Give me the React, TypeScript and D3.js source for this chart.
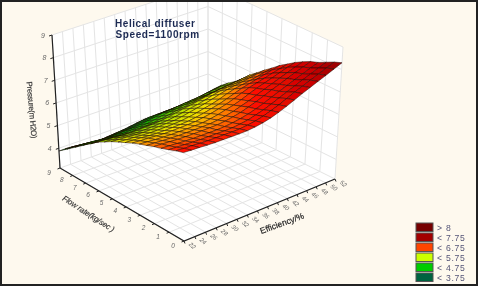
import React from "react";
import * as d3 from "d3";

// Tick labels
const flowTicks = [0, 1, 2, 3, 4, 5, 6, 7, 8, 9];
const effTicks = [22, 24, 26, 28, 30, 32, 34, 36, 38, 40, 42, 44, 46, 48, 50, 52];
const pressureTicks = [4, 5, 6, 7, 8, 9];

// Legend
const legendLabels = ["> 8", "< 7.75", "< 6.75", "< 5.75", "< 4.75", "< 3.75"];
const legendColors = ["#760000", "#a30000", "#ff4500", "#ccff00", "#00cc00", "#00643f"];

// Pressure. Rows run from flow 9 down to flow 0,
// columns from the lowest to the highest efficiency.
const pressure = [
  [3.88, 3.84, 3.80, 3.76, 3.73, 3.73, 3.76, 3.79, 3.82, 3.87, 3.92, 3.96, 3.96, 3.95, 3.93, 3.92, 3.92, 3.96, 4.00, 4.04, 4.07],
  [4.14, 4.11, 4.07, 4.03, 4.00, 4.00, 4.03, 4.06, 4.08, 4.13, 4.19, 4.23, 4.24, 4.25, 4.25, 4.26, 4.27, 4.31, 4.36, 4.41, 4.45],
  [4.38, 4.34, 4.31, 4.27, 4.24, 4.24, 4.27, 4.29, 4.32, 4.37, 4.42, 4.47, 4.49, 4.51, 4.53, 4.55, 4.57, 4.62, 4.68, 4.74, 4.79],
  [4.61, 4.58, 4.55, 4.51, 4.49, 4.49, 4.51, 4.53, 4.56, 4.61, 4.66, 4.72, 4.74, 4.78, 4.82, 4.85, 4.88, 4.92, 4.96, 5.00, 5.04],
  [4.82, 4.78, 4.75, 4.72, 4.70, 4.70, 4.72, 4.74, 4.76, 4.81, 4.87, 4.93, 4.96, 5.01, 5.05, 5.08, 5.10, 5.13, 5.17, 5.22, 5.26],
  [5.02, 4.99, 4.96, 4.93, 4.91, 4.91, 4.93, 4.94, 4.97, 5.02, 5.07, 5.14, 5.18, 5.24, 5.29, 5.34, 5.37, 5.40, 5.44, 5.50, 5.54],
  [5.26, 5.23, 5.20, 5.17, 5.15, 5.15, 5.17, 5.18, 5.20, 5.25, 5.31, 5.38, 5.43, 5.50, 5.57, 5.64, 5.68, 5.72, 5.76, 5.81, 5.86],
  [5.43, 5.40, 5.38, 5.35, 5.33, 5.33, 5.34, 5.36, 5.38, 5.43, 5.49, 5.56, 5.62, 5.70, 5.79, 5.87, 5.92, 5.96, 6.01, 6.06, 6.11],
  [5.61, 5.58, 5.56, 5.53, 5.51, 5.51, 5.52, 5.54, 5.55, 5.60, 5.67, 5.74, 5.81, 5.90, 6.00, 6.09, 6.15, 6.20, 6.26, 6.33, 6.38],
  [5.76, 5.73, 5.71, 5.68, 5.66, 5.66, 5.67, 5.68, 5.70, 5.75, 5.81, 5.89, 5.96, 6.06, 6.18, 6.28, 6.35, 6.41, 6.48, 6.56, 6.63],
  [5.90, 5.88, 5.86, 5.83, 5.81, 5.81, 5.82, 5.83, 5.85, 5.90, 5.96, 6.04, 6.12, 6.23, 6.35, 6.47, 6.56, 6.64, 6.73, 6.82, 6.90],
  [6.05, 6.02, 6.01, 5.98, 5.96, 5.96, 5.97, 5.98, 6.00, 6.05, 6.11, 6.19, 6.28, 6.40, 6.53, 6.66, 6.75, 6.84, 6.94, 7.03, 7.12],
  [6.17, 6.14, 6.12, 6.10, 6.09, 6.09, 6.09, 6.10, 6.11, 6.16, 6.23, 6.32, 6.40, 6.52, 6.66, 6.79, 6.90, 7.01, 7.13, 7.25, 7.35],
  [6.28, 6.26, 6.24, 6.22, 6.21, 6.21, 6.21, 6.22, 6.23, 6.27, 6.33, 6.41, 6.52, 6.63, 6.76, 6.90, 7.03, 7.16, 7.29, 7.42, 7.54],
  [6.40, 6.38, 6.36, 6.34, 6.33, 6.33, 6.33, 6.34, 6.35, 6.39, 6.45, 6.53, 6.64, 6.76, 6.90, 7.04, 7.17, 7.31, 7.45, 7.58, 7.71],
  [6.49, 6.47, 6.45, 6.43, 6.42, 6.42, 6.42, 6.42, 6.44, 6.48, 6.54, 6.62, 6.73, 6.85, 7.00, 7.14, 7.28, 7.42, 7.56, 7.70, 7.83],
  [6.60, 6.58, 6.57, 6.55, 6.54, 6.54, 6.54, 6.54, 6.55, 6.59, 6.65, 6.74, 6.85, 6.98, 7.13, 7.28, 7.42, 7.57, 7.71, 7.86, 8.00],
  [6.72, 6.70, 6.69, 6.67, 6.66, 6.66, 6.66, 6.66, 6.67, 6.71, 6.77, 6.86, 6.98, 7.11, 7.27, 7.43, 7.57, 7.72, 7.87, 8.02, 8.17],
  [6.81, 6.79, 6.78, 6.76, 6.75, 6.75, 6.75, 6.75, 6.76, 6.80, 6.86, 6.95, 7.07, 7.21, 7.37, 7.53, 7.68, 7.83, 7.98, 8.14, 8.30],
];

type Pt = [number, number];

// Maps the unit square onto a quad, which gives the perspective of the plot box
const quadMap = (q: Pt[]) => {
  const [[x0, y0], [x1, y1], [x2, y2], [x3, y3]] = q;
  const sx = x0 - x1 + x2 - x3;
  const sy = y0 - y1 + y2 - y3;
  const dx1 = x1 - x2;
  const dx2 = x3 - x2;
  const dy1 = y1 - y2;
  const dy2 = y3 - y2;
  const den = dx1 * dy2 - dx2 * dy1;
  const g = (sx * dy2 - dx2 * sy) / den;
  const h = (dx1 * sy - sx * dy1) / den;
  const a = x1 - x0 + g * x1;
  const b = x3 - x0 + h * x3;
  const d = y1 - y0 + g * y1;
  const e = y3 - y0 + h * y3;
  return (u: number, v: number): Pt => {
    const w = g * u + h * v + 1;
    return [(a * u + b * v + x0) / w, (d * u + e * v + y0) / w];
  };
};

// Box corners, in order: flow 0 / low eff, flow 0 / high eff, flow 9 / high eff, flow 9 / low eff
const floorMap = quadMap([[184, 241], [335, 179], [208, 116], [60, 168]]);
const topMap = quadMap([[183, 100], [343, 47], [208, -16], [52, 35]]);

const uScale = d3.scaleLinear().domain([22, 52]).range([0, 1]);
const vScale = d3.scaleLinear().domain([0, 9]).range([0, 1]);
const wScale = d3.scaleLinear().domain([3.13, 9]).range([0, 1]);

const project = (eff: number, flow: number, p: number): Pt => {
  const u = uScale(eff);
  const v = vScale(flow);
  const w = wScale(p);
  const a = floorMap(u, v);
  const b = topMap(u, v);
  return [a[0] + (b[0] - a[0]) * w, a[1] + (b[1] - a[1]) * w];
};

const surfaceColor = d3
  .scaleLinear<string>()
  .domain([3.75, 4.6, 5.4, 5.85, 6.3, 6.75, 7.75, 8.3])
  .range(["#00502c", "#00b800", "#b8e000", "#f4e000", "#ff8000", "#ff1000", "#c80000", "#900000"])
  .clamp(true);

const path = d3.line();
const gridLine = "#e4e4e4";
const axisLine = "#222";
const bg = "#fef9ee";

export default function App() {
  const nRows = pressure.length;
  const nCols = pressure[0].length;
  const effAt = d3.scaleLinear().domain([0, nCols - 1]).range([22, 52]);
  const flowAt = d3.scaleLinear().domain([0, nRows - 1]).range([9, 0]);

  // back to front so nearer cells paint over further ones
  const cells: { d: string; fill: string }[] = [];
  for (let r = 0; r < nRows - 1; r++) {
    for (let c = nCols - 2; c >= 0; c--) {
      const corners: [number, number][] = [[r, c], [r, c + 1], [r + 1, c + 1], [r + 1, c]];
      const pts = corners.map(([i, j]) => project(effAt(j), flowAt(i), pressure[i][j]));
      const mean = d3.mean(corners, ([i, j]) => pressure[i][j]) as number;
      cells.push({ d: path(pts) + "Z", fill: surfaceColor(mean) });
    }
  }

  const poly = (pts: Pt[]) => path(pts) + "Z";
  const walls = [
    poly([project(22, 9, 3.13), project(52, 9, 3.13), project(52, 9, 9), project(22, 9, 9)]),
    poly([project(52, 0, 3.13), project(52, 9, 3.13), project(52, 9, 9), project(52, 0, 9)]),
    poly([project(22, 0, 3.13), project(52, 0, 3.13), project(52, 9, 3.13), project(22, 9, 3.13)]),
  ];

  const grid: string[] = [];
  effTicks.forEach((e) => {
    grid.push(path([project(e, 0, 3.13), project(e, 9, 3.13)]) as string);
    grid.push(path([project(e, 9, 3.13), project(e, 9, 9)]) as string);
  });
  flowTicks.forEach((f) => {
    grid.push(path([project(22, f, 3.13), project(52, f, 3.13)]) as string);
    grid.push(path([project(52, f, 3.13), project(52, f, 9)]) as string);
  });
  pressureTicks.forEach((p) => {
    grid.push(path([project(22, 9, p), project(52, 9, p)]) as string);
    grid.push(path([project(52, 9, p), project(52, 0, p)]) as string);
  });

  return (
    <svg
      width={480}
      height={287}
      style={{ position: "absolute", left: 0, top: 0, background: "#fff" }}
      fontFamily="'Liberation Sans', Arial, sans-serif"
    >
      <defs>
        <clipPath id="frame">
          <rect x={2} y={2} width={474} height={282} />
        </clipPath>
        <filter id="soft" x="-5%" y="-5%" width="110%" height="110%">
          <feGaussianBlur stdDeviation={0.35} />
        </filter>
      </defs>
      <rect x={1} y={1} width={476} height={284} fill={bg} stroke="#222" strokeWidth={2} />

      <g clipPath="url(#frame)" filter="url(#soft)">
        {walls.map((d, i) => (
          <path key={i} d={d} fill="#fff" />
        ))}
        {grid.map((d, i) => (
          <path key={i} d={d} fill="none" stroke={gridLine} strokeWidth={1} />
        ))}

        {cells.map((c, i) => (
          <path key={i} d={c.d} fill={c.fill} stroke="#1a0a00" strokeWidth={0.5} strokeLinejoin="round" />
        ))}

        {/* axes */}
        <path d={path([project(22, 9, 9), project(22, 9, 3.13)]) as string} stroke={axisLine} strokeWidth={1.2} fill="none" />
        <path d={path([project(22, 9, 3.13), project(22, 0, 3.13), project(52, 0, 3.13)]) as string} stroke={axisLine} strokeWidth={1.2} fill="none" />
        {pressureTicks.map((p) => {
          const [x, y] = project(22, 9, p);
          return (
            <g key={p}>
              <line x1={x} y1={y} x2={x - 3} y2={y + 1} stroke={axisLine} />
              <text x={x - 9} y={y + 2.5} fontSize={7} fontStyle="italic" fill="#666" textAnchor="middle">
                {p}
              </text>
            </g>
          );
        })}
        {flowTicks.map((f) => {
          const [x, y] = project(22, f, 3.13);
          return (
            <g key={f}>
              <line x1={x} y1={y} x2={x - 2.5} y2={y + 1} stroke={axisLine} />
              <text x={x - 11} y={y + 6.5} fontSize={6.5} fontStyle="italic" fill="#666" textAnchor="middle">
                {f}
              </text>
            </g>
          );
        })}
        {effTicks.map((e) => {
          const [x, y] = project(e, 0, 3.13);
          return (
            <g key={e}>
              <line x1={x} y1={y} x2={x + 1} y2={y + 2.5} stroke={axisLine} />
              <text
                x={x + 8}
                y={y + 5}
                fontSize={6}
                fontStyle="italic"
                fill="#666"
                textAnchor="middle"
                dominantBaseline="middle"
                transform={`rotate(40 ${x + 8} ${y + 5})`}
              >
                {e}
              </text>
            </g>
          );
        })}

        {/* axis titles */}
        <text transform="translate(29,110) rotate(85)" fontSize={8} fill="#333" textAnchor="middle" letterSpacing={-0.4} stroke="#333" strokeWidth={0.15}>
          Pressure(m H2O)
        </text>
        <text transform="translate(87,216) rotate(33)" fontSize={8} fontStyle="italic" fill="#333" textAnchor="middle" letterSpacing={-0.2} stroke="#333" strokeWidth={0.15}>
          Flow rate(kg/sec )
        </text>
        <text transform="translate(283,226) rotate(-20)" fontSize={8.5} fill="#222" textAnchor="middle" stroke="#222" strokeWidth={0.2}>
          Efficiency/%
        </text>
      </g>

      {/* title */}
      <g filter="url(#soft)" fontWeight="bold" fontSize={10} fill="#1c2a52">
        <text x={115} y={26.5} letterSpacing={0.55}>Helical diffuser</text>
        <text x={115.5} y={37.5} letterSpacing={0.6}>Speed=1100rpm</text>
      </g>

      {/* legend */}
      <g filter="url(#soft)">
        {legendLabels.map((label, i) => (
          <g key={label} transform={`translate(416,${223 + i * 10})`}>
            <rect width={17} height={8.5} fill={legendColors[i]} stroke="#555" strokeWidth={1} />
            <text x={21} y={7.9} fontSize={8.6} letterSpacing={0.75} fill="#555577">
              {label}
            </text>
          </g>
        ))}
      </g>
    </svg>
  );
}
